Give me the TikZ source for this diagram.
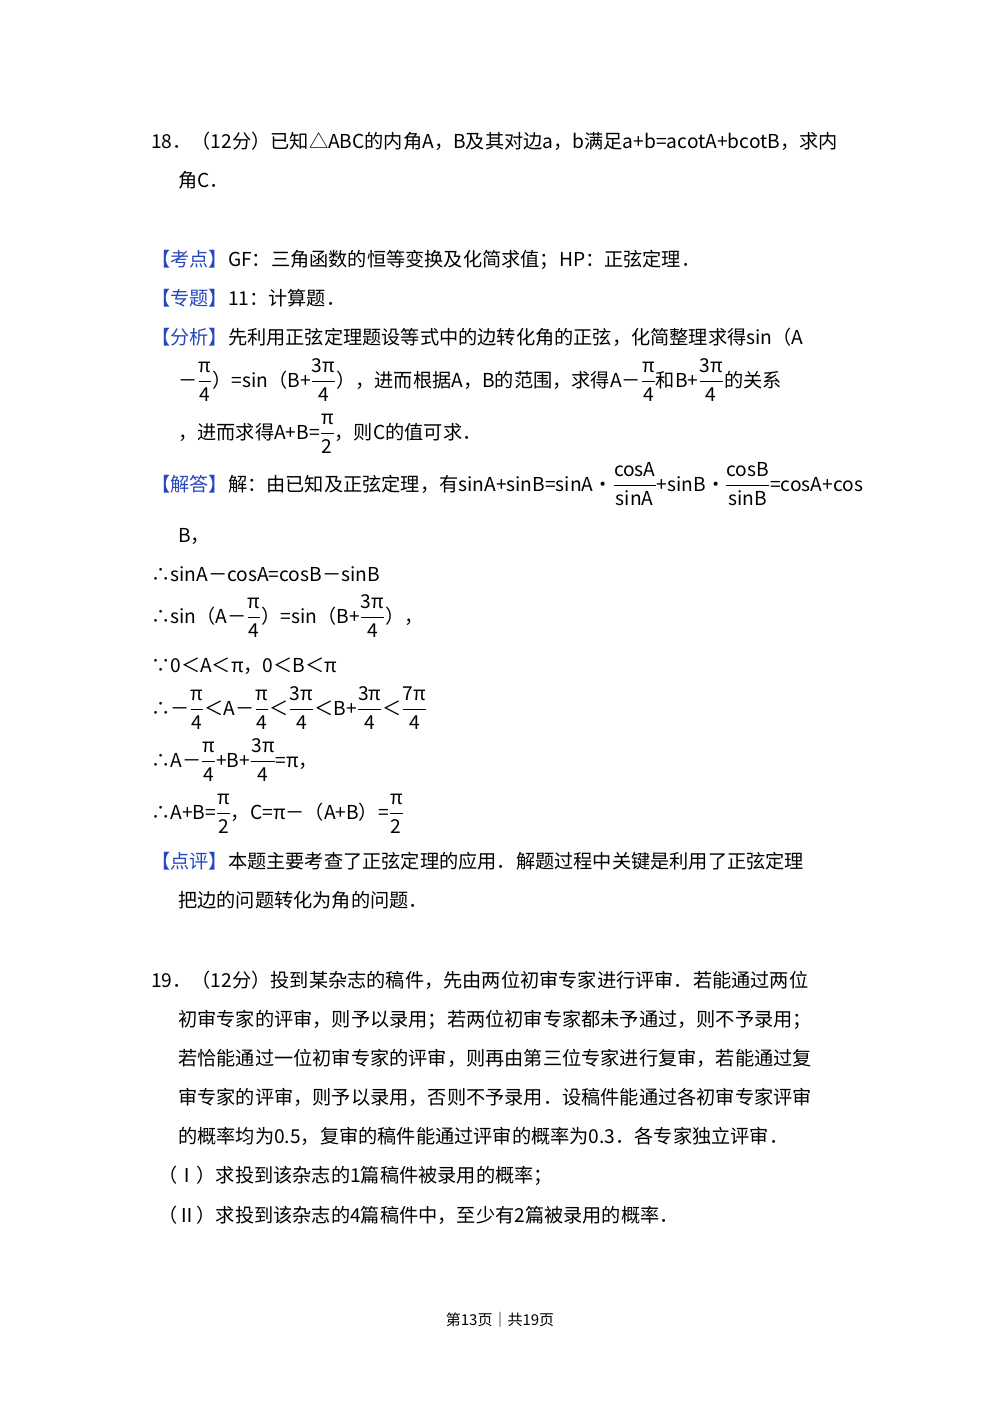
\documentclass[tikz,border=0pt]{standalone}
\usepackage{amsmath}
\usepackage{fontspec}
\setmainfont{Noto Sans CJK SC}
\definecolor{lab}{RGB}{40,70,190}
\newcommand{\fr}[2]{$\dfrac{\text{#1}}{\text{#2}}$}
\newcommand{\lb}[1]{\textcolor{lab}{【#1】}}
\begin{document}
\begin{tikzpicture}[x=1pt,y=-1pt,
  t/.style={anchor=base west,inner sep=0pt,font=\fontsize{19.2}{22}\selectfont}]
\useasboundingbox (0,0) rectangle (1000,1414);
\node[t] (l1) at (151,148) {18．（12分）已知△ABC的内角A，B及其对边a，b满足a+b=acotA+bcotB，求内};
\node[t] (l2) at (178,187) {角C．};
\node[t] (l3) at (151,266) {\lb{考点}GF：三角函数的恒等变换及化简求值；HP：正弦定理．};
\node[t] (l4) at (151,305) {\lb{专题}11：计算题．};
\node[t] (l5) at (151,344) {\lb{分析}先利用正弦定理题设等式中的边转化角的正弦，化简整理求得sin（A};
\node[t] (l6) at (178,387) {－\fr{π}{4}）=sin（B+\fr{3π}{4}），进而根据A，B的范围，求得A－\fr{π}{4}和B+\fr{3π}{4}的关系};
\node[t] (l7) at (178,439) {，进而求得A+B=\fr{π}{2}，则C的值可求．};
\node[t] (l8) at (151,491) {\lb{解答}解：由已知及正弦定理，有sinA+sinB=sinA•\fr{cosA}{sinA}+sinB•\fr{cosB}{sinB}=cosA+cos};
\node[t] (l9) at (178,542) {B，};
\node[t] (l10) at (151,581) {∴sinA－cosA=cosB－sinB};
\node[t] (l11) at (151,623) {∴sin（A－\fr{π}{4}）=sin（B+\fr{3π}{4}），};
\node[t] (l12) at (151,672) {∵0＜A＜π，0＜B＜π};
\node[t] (l13) at (151,715) {∴－\fr{π}{4}＜A－\fr{π}{4}＜\fr{3π}{4}＜B+\fr{3π}{4}＜\fr{7π}{4}};
\node[t] (l14) at (151,767) {∴A－\fr{π}{4}+B+\fr{3π}{4}=π，};
\node[t] (l15) at (151,819) {∴A+B=\fr{π}{2}，C=π－（A+B）=\fr{π}{2}};
\node[t] (l16) at (151,868) {\lb{点评}本题主要考查了正弦定理的应用．解题过程中关键是利用了正弦定理};
\node[t] (l17) at (178,907) {把边的问题转化为角的问题．};
\node[t] (l18) at (151,987) {19．（12分）投到某杂志的稿件，先由两位初审专家进行评审．若能通过两位};
\node[t] (l19) at (178,1026) {初审专家的评审，则予以录用；若两位初审专家都未予通过，则不予录用；};
\node[t] (l20) at (178,1065) {若恰能通过一位初审专家的评审，则再由第三位专家进行复审，若能通过复};
\node[t] (l21) at (178,1104) {审专家的评审，则予以录用，否则不予录用．设稿件能通过各初审专家评审};
\node[t] (l22) at (178,1143) {的概率均为0.5，复审的稿件能通过评审的概率为0.3．各专家独立评审．};
\node[t] (l23) at (158,1182) {（Ⅰ）求投到该杂志的1篇稿件被录用的概率；};
\node[t] (l24) at (158,1222) {（Ⅱ）求投到该杂志的4篇稿件中，至少有2篇被录用的概率．};
\node[anchor=base,inner sep=0pt,font=\fontsize{15}{17}\selectfont] (ft) at (500,1325) {第13页｜共19页};
\end{tikzpicture}
\end{document}
